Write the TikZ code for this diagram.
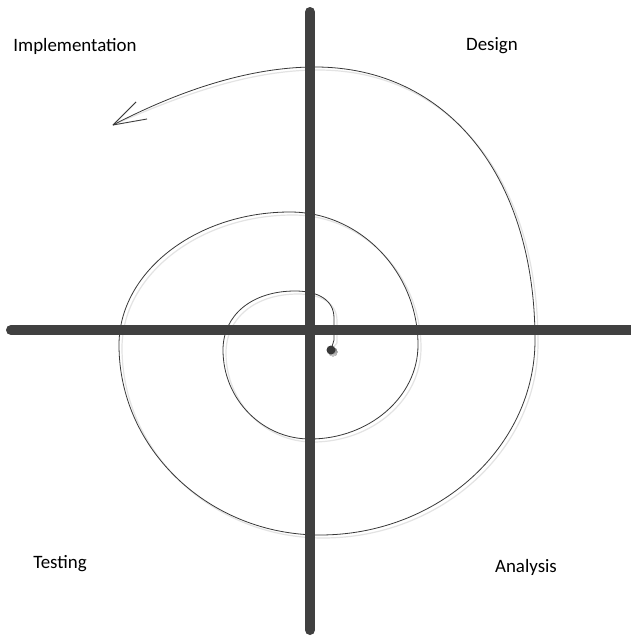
\documentclass[tikz,border=0pt]{standalone}
\usepackage{fontspec}
\setmainfont{Carlito}
\definecolor{bar}{HTML}{404040}
\definecolor{ink}{HTML}{383838}
\definecolor{shade}{HTML}{DCDCDC}
\begin{document}
\begin{tikzpicture}[x=1pt,y=-1pt,
  axisbar/.style={line width=10pt,line cap=round,color=bar},
  axisshadow/.style={line width=10pt,line cap=round,color=shade,opacity=0.65},
  spiral/.style={line width=0.8pt,color=ink,line join=round},
  spiralshadow/.style={line width=1.2pt,color=shade,opacity=0.8},
  lbl/.style={font=\fontsize{18.9}{22}\selectfont,text=black,inner sep=0pt}]
\useasboundingbox (0,0) rectangle (631,637);
\fill[white] (0,0) rectangle (631,637);
% end points of axes
\coordinate (vtop) at (310,12);
\coordinate (vbot) at (310,630);
\coordinate (hleft) at (11,330);
\coordinate (hright) at (640,330);
\coordinate (start) at (331,350);
\coordinate (tip) at (113,125);
\coordinate (barbA) at (136,102);
\coordinate (barbB) at (147,119);
\def\spiralpath{(start) -- (334,340) -- (334,318)
  .. controls (334,300) and (318,291) .. (295,291)
  .. controls (252,291) and (223,315) .. (223,350)
  .. controls (223,399) and (262,439) .. (310,439)
  .. controls (369,439) and (418,397) .. (418,345)
  .. controls (418,272) and (360,212) .. (290,212)
  .. controls (196,212) and (119,272) .. (119,345)
  .. controls (119,450) and (210,535) .. (320,535)
  .. controls (438,535) and (535,447) .. (535,340)
  .. controls (535,176) and (447,67) .. (315,67)
  .. controls (240,67) and (165,98) .. (tip)}
% spiral shadow
\draw[spiralshadow,shift={(3,3)}] \spiralpath;
\draw[spiralshadow,shift={(3,3)}] (tip) -- (barbA) (tip) -- (barbB);
% spiral
\draw[spiral] \spiralpath;
\draw[spiral] (barbA) -- (tip) -- (barbB);
% vertical axis with shadow
\draw[axisshadow,shift={(4,4)}] (vtop) -- (vbot);
\draw[axisbar] (vtop) -- (vbot);
% horizontal axis with shadow
\draw[axisshadow,shift={(4,4)}] (hleft) -- (hright);
\draw[axisbar] (hleft) -- (hright);
% start dot
\fill[shade,opacity=0.8] ([shift={(2,2)}]start) circle (4.5);
\node[circle,fill=ink,minimum size=9pt,inner sep=0pt] (dot) at (start) {};
% labels
\node[lbl] (impl) at (75,46) {Implementation};
\node[lbl] (design) at (492,46) {Design};
\node[lbl] (test) at (60,564) {Testing};
\node[lbl] (anal) at (526,567) {Analysis};
\end{tikzpicture}
\end{document}
